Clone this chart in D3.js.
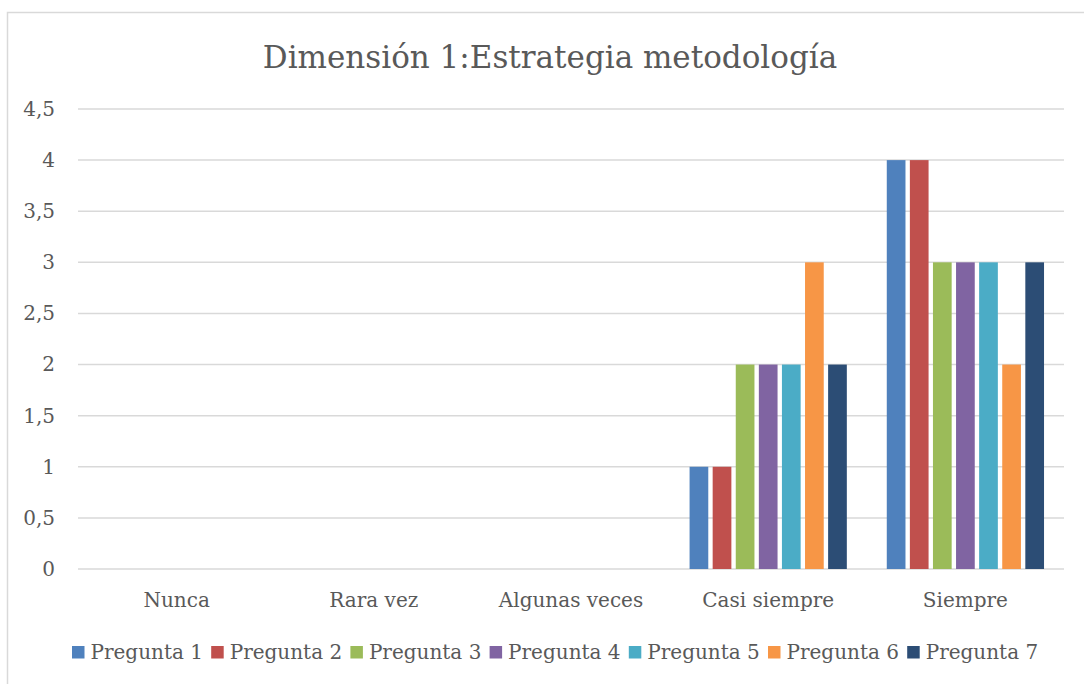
<!DOCTYPE html>
<html>
<head>
<meta charset="utf-8">
<script src="https://cdn.jsdelivr.net/npm/d3@7"></script>
<style>
  body { margin: 0; background: #fff; }
  svg text { font-family: "DejaVu Serif", serif; fill: #595959; }
</style>
</head>
<body>
<div id="chart"></div>
<script>
// datos del gráfico
var categories = ["Nunca", "Rara vez", "Algunas veces", "Casi siempre", "Siempre"];
var seriesNames = ["Pregunta 1", "Pregunta 2", "Pregunta 3", "Pregunta 4", "Pregunta 5", "Pregunta 6", "Pregunta 7"];
var pregunta1 = [0, 0, 0, 1, 4];
var pregunta2 = [0, 0, 0, 1, 4];
var pregunta3 = [0, 0, 0, 2, 3];
var pregunta4 = [0, 0, 0, 2, 3];
var pregunta5 = [0, 0, 0, 2, 3];
var pregunta6 = [0, 0, 0, 3, 2];
var pregunta7 = [0, 0, 0, 2, 3];
var yTicks = [0, 0.5, 1, 1.5, 2, 2.5, 3, 3.5, 4, 4.5];
var colors = ["#4F81BD", "#C0504D", "#9BBB59", "#8064A2", "#4BACC6", "#F79646", "#2C4D75"];

var seriesValues = [pregunta1, pregunta2, pregunta3, pregunta4, pregunta5, pregunta6, pregunta7];

var width = 1084, height = 684;
var margin = { top: 109, right: 20, bottom: 115, left: 78 };

var svg = d3.select("#chart").append("svg")
    .attr("width", width)
    .attr("height", height);

// marco del gráfico
svg.append("rect")
    .attr("x", 7.5).attr("y", 12.5)
    .attr("width", 1090).attr("height", 700)
    .attr("fill", "none")
    .attr("stroke", "#d9d9d9")
    .attr("stroke-width", 1.5);

// título
svg.append("text")
    .attr("x", 550).attr("y", 68)
    .attr("text-anchor", "middle")
    .style("font-size", "31px")
    .text("Dimensión 1:Estrategia metodología");

var x0 = d3.scaleBand()
    .domain(categories)
    .range([margin.left, width - margin.right]);

var x1 = d3.scaleBand()
    .domain(seriesNames)
    .range([0, x0.bandwidth()])
    .paddingInner(0.19)
    .paddingOuter(0.865);

var y = d3.scaleLinear()
    .domain([0, 4.5])
    .range([height - margin.bottom, margin.top]);

// líneas de cuadrícula
svg.append("g")
    .selectAll("line")
    .data(yTicks)
    .enter().append("line")
    .attr("x1", margin.left)
    .attr("x2", width - margin.right)
    .attr("y1", d => y(d))
    .attr("y2", d => y(d))
    .attr("stroke", "#d9d9d9")
    .attr("stroke-width", 1.5);

// eje Y
var fmt = d => String(d).replace(".", ",");
svg.append("g")
    .attr("transform", "translate(" + (margin.left - 23) + ",0)")
    .call(d3.axisLeft(y).tickValues(yTicks).tickFormat(fmt).tickSize(0).tickPadding(0))
    .call(g => g.select(".domain").remove())
    .call(g => g.selectAll("text").style("font-size", "20px").attr("fill", "#595959").style("font-family", "DejaVu Serif"));

// eje X
svg.append("g")
    .attr("transform", "translate(0," + y(0) + ")")
    .call(d3.axisBottom(x0).tickSize(0).tickPadding(24))
    .call(g => g.select(".domain").remove())
    .call(g => g.selectAll("text").style("font-size", "20px").attr("fill", "#595959").style("font-family", "DejaVu Serif"));

// barras
var groups = svg.append("g")
    .selectAll("g")
    .data(seriesNames)
    .enter().append("g")
    .attr("fill", (d, i) => colors[i]);

groups.selectAll("rect")
    .data((d, i) => seriesValues[i].map((v, j) => ({ name: d, cat: categories[j], value: v })))
    .enter().append("rect")
    .filter(d => d.value > 0)
    .attr("x", d => x0(d.cat) + x1(d.name))
    .attr("y", d => y(d.value))
    .attr("width", x1.bandwidth())
    .attr("height", d => y(0) - y(d.value));

// leyenda
var legend = svg.append("g")
    .attr("transform", "translate(72,646)");

var item = legend.selectAll("g")
    .data(seriesNames)
    .enter().append("g")
    .attr("transform", (d, i) => "translate(" + (i * 139.2) + ",0)");

item.append("rect")
    .attr("width", 12.5).attr("height", 12.5)
    .attr("fill", (d, i) => colors[i]);

item.append("text")
    .attr("x", 18.5).attr("y", 12.5)
    .style("font-size", "20px")
    .text(d => d);
</script>
</body>
</html>
